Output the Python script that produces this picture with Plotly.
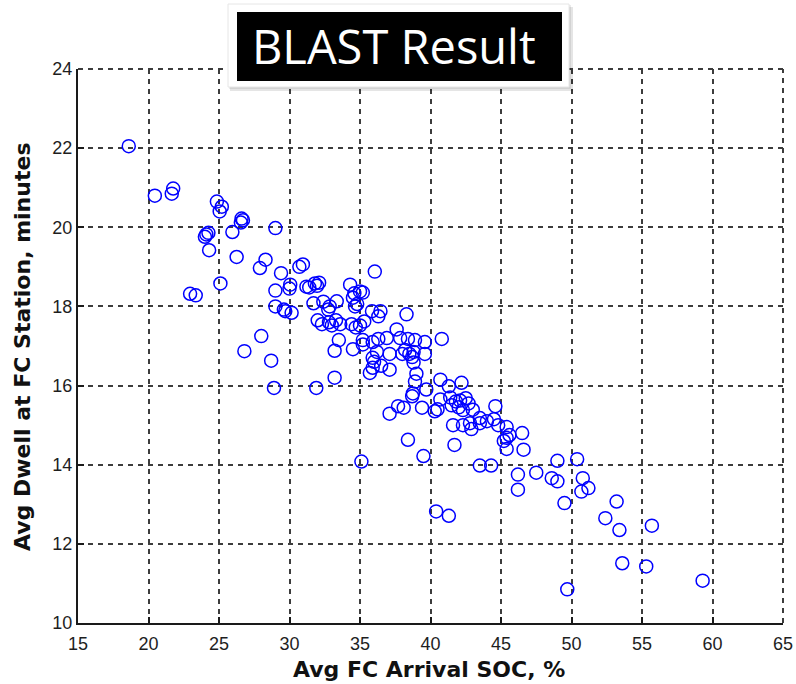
import plotly.graph_objects as go

# Avg FC Arrival SOC (%)
soc = [18.6, 20.45, 21.65, 21.75, 24.85, 25.2, 25.05, 26.6, 26.55, 26.7,
       29.0, 24.1, 24.0, 24.25, 25.95, 24.3, 26.25, 27.9, 28.3, 30.7,
       30.95, 29.4, 36.05, 25.1, 22.95, 23.35, 29.0, 30.05, 30.0, 31.2,
       31.4, 31.8, 32.1, 31.95, 29.0, 29.7, 30.15, 29.6, 28.0, 31.7,
       32.4, 33.35, 32.85, 32.75, 34.3, 35.0, 34.6, 34.5, 35.2, 34.65,
       34.8, 35.85, 36.45, 32.0, 32.3, 32.8, 33.3, 33.0, 33.6, 34.4,
       35.0, 35.3, 34.7, 33.5, 33.2, 34.5, 35.2, 35.2, 35.9, 36.3,
       36.9, 35.9, 36.0, 35.9, 36.5, 37.1, 35.7, 37.1, 36.2, 37.6,
       37.85, 38.4, 38.9, 39.6, 40.8, 38.2, 38.5, 38.7, 38.8, 38.0,
       39.6, 38.8, 39.0, 38.9, 38.7, 38.75, 39.7, 38.1, 39.4, 40.3,
       40.5, 40.7, 41.3, 42.2, 40.7, 41.4, 41.8, 42.1, 42.5, 42.7,
       42.0, 42.3, 41.5, 43.0, 43.5, 44.6, 41.6, 42.3, 42.8, 42.9,
       43.5, 44.0, 44.5, 44.8, 45.4, 45.4, 45.2, 45.6, 46.5, 46.6,
       45.4, 38.4, 39.5, 41.7, 43.5, 44.3, 49.0, 46.2, 46.2, 47.5,
       48.6, 49.0, 50.4, 50.8, 51.2, 50.7, 49.5, 53.2, 52.4, 53.4,
       55.7, 40.4, 41.3, 53.6, 55.3, 59.3, 49.7, 26.8, 28.7, 28.9,
       31.9, 33.2, 35.1, 37.1, 37.7, 36.3, 38.3]

# Avg Dwell at FC Station (minutes)
dwell = [22.05, 20.8, 20.85, 20.98, 20.65, 20.52, 20.4, 20.22, 20.12, 20.18,
         19.98, 19.82, 19.76, 19.86, 19.88, 19.42, 19.25, 18.97, 19.18, 19.0,
         19.06, 18.84, 18.88, 18.58, 18.32, 18.28, 18.4, 18.55, 18.45, 18.5,
         18.48, 18.58, 18.6, 18.52, 18.0, 17.88, 17.84, 17.92, 17.25, 18.08,
         18.12, 18.13, 18.0, 17.92, 18.55, 18.38, 18.33, 18.22, 18.35, 18.0,
         18.06, 17.88, 17.88, 17.65, 17.55, 17.6, 17.65, 17.52, 17.55, 17.55,
         17.52, 17.62, 17.47, 17.15, 16.88, 16.92, 17.15, 17.04, 17.1, 17.18,
         17.2, 16.7, 16.6, 16.45, 16.5, 16.4, 16.32, 16.8, 16.85, 17.42,
         17.2, 17.18, 17.15, 17.1, 17.18, 16.9, 16.8, 16.72, 16.85, 16.8,
         16.8, 16.58, 16.3, 16.1, 15.73, 15.8, 15.9, 15.44, 15.44, 15.35,
         15.4, 16.15, 15.98, 16.07, 15.65, 15.7, 15.6, 15.62, 15.68, 15.55,
         15.45, 15.38, 15.5, 15.39, 15.18, 15.48, 15.0, 15.0, 15.05, 14.9,
         15.05, 15.1, 15.15, 15.0, 14.95, 14.68, 14.6, 14.75, 14.8, 14.38,
         14.4, 14.63, 14.22, 14.5, 13.98, 13.98, 14.1, 13.75, 13.37, 13.8,
         13.66, 13.58, 14.14, 13.66, 13.41, 13.32, 13.03, 13.07, 12.65, 12.35,
         12.46, 12.82, 12.71, 11.51, 11.43, 11.07, 10.85, 16.87, 16.63, 15.94,
         15.94, 16.2, 14.08, 15.29, 15.48, 17.75, 17.8]

x_ticks = [15, 20, 25, 30, 35, 40, 45, 50, 55, 60, 65]
y_ticks = [10, 12, 14, 16, 18, 20, 22, 24]

title_text = "BLAST Result"
x_title = "Avg FC Arrival SOC, %"
y_title = "Avg Dwell at FC Station, minutes"

W, H = 796, 684
L, R, T, B = 78, 783, 69, 623


def px(xp):
    return (xp - L) / (R - L)


def py(yp):
    return (B - yp) / (B - T)


fig = go.Figure()
fig.add_trace(go.Scatter(
    x=soc, y=dwell, mode="markers",
    marker=dict(symbol="circle-open", size=13, color="#0000ff",
                line=dict(width=1.5, color="#0000ff")),
    hoverinfo="skip", showlegend=False,
))

GRID_COLOR = "#3c3c3c"
GRID_DASH = "5px,5px"

axis_common = dict(
    showgrid=True, gridcolor=GRID_COLOR, gridwidth=2, griddash=GRID_DASH,
    showline=True, linecolor="#1a1a1a", linewidth=2,
    ticks="inside", ticklen=6, tickwidth=2, tickcolor="#1a1a1a",
    tickfont=dict(family="Liberation Sans, Arial, sans-serif", size=18, color="#1e1e1e"),
    zeroline=False, mirror=False, automargin=False,
)

fig.update_xaxes(range=[15, 65], tickvals=x_ticks, ticktext=[str(v) for v in x_ticks],
                 ticklabelstandoff=3, **axis_common)
fig.update_yaxes(range=[10, 24], tickvals=y_ticks, ticktext=[str(v) for v in y_ticks],
                 **axis_common)

dash_line = dict(color=GRID_COLOR, width=2, dash=GRID_DASH)

shapes = [
    # outer dashed grid lines at the top (24) and right (65) edges
    dict(type="line", xref="paper", yref="paper", layer="below",
         x0=0, x1=1, y0=1, y1=1, line=dash_line),
    dict(type="line", xref="paper", yref="paper", layer="below",
         x0=1, x1=1, y0=0, y1=1, line=dash_line),
    # title panel (white card with soft shadow, black label box)
    dict(type="rect", xref="paper", yref="paper", layer="above",
         x0=px(230), x1=px(573), y0=py(91), y1=py(7),
         fillcolor="rgba(0,0,0,0.10)", line=dict(width=0)),
    dict(type="rect", xref="paper", yref="paper", layer="above",
         x0=px(229), x1=px(571), y0=py(89), y1=py(5),
         fillcolor="rgba(0,0,0,0.08)", line=dict(width=0)),
    dict(type="rect", xref="paper", yref="paper", layer="above",
         x0=px(228), x1=px(569), y0=py(87), y1=py(4),
         fillcolor="#ffffff", line=dict(color="#e6e6e6", width=1)),
    dict(type="rect", xref="paper", yref="paper", layer="above",
         x0=px(237), x1=px(562), y0=py(81), y1=py(12),
         fillcolor="#000000", line=dict(width=0)),
]

title_font = dict(family="DejaVu Sans, Liberation Sans, sans-serif", size=22, color="#111111")

annotations = [
    dict(text=title_text, xref="paper", yref="paper",
         x=px(394), y=py(46), xanchor="center", yanchor="middle",
         showarrow=False,
         font=dict(family="Open Sans, Noto Sans, sans-serif", size=47, color="#ffffff")),
    dict(text="<b>" + x_title + "</b>", xref="paper", yref="paper",
         x=px(429), y=py(669), xanchor="center", yanchor="middle", showarrow=False,
         font=title_font),
    dict(text="<b>" + y_title + "</b>", xref="paper", yref="paper",
         x=px(22), y=py(347), xanchor="center", yanchor="middle", showarrow=False,
         textangle=-90, font=title_font),
]

fig.update_layout(
    width=W, height=H,
    margin=dict(l=L, r=W - R, t=T, b=H - B, pad=0, autoexpand=False),
    paper_bgcolor="#ffffff", plot_bgcolor="#ffffff",
    shapes=shapes, annotations=annotations,
    showlegend=False, hovermode=False, dragmode=False,
)

fig.write_html(
    "out.html",
    config={"displayModeBar": False},
    post_script="document.body.style.margin='0';document.body.style.padding='0';"
                "document.body.style.overflow='hidden';",
)
